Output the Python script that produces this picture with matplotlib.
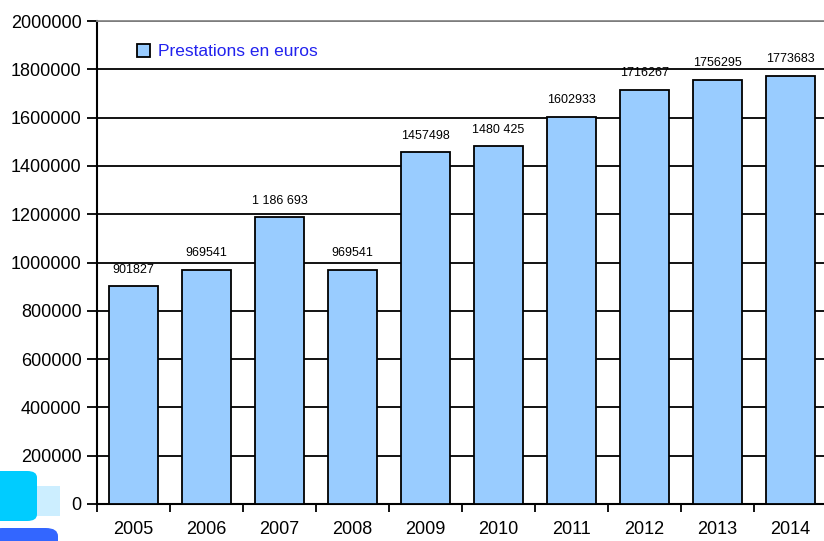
import matplotlib
matplotlib.use("Agg")
import matplotlib.pyplot as plt
from matplotlib.patches import FancyBboxPatch, Rectangle
from matplotlib import font_manager

years = ["2005", "2006", "2007", "2008", "2009", "2010", "2011", "2012", "2013", "2014"]
values = [901827, 969541, 1186693, 969541, 1457498, 1480425, 1602933, 1716267, 1756295, 1773683]
value_labels = ["901827", "969541", "1 186 693", "969541", "1457498", "1480 425",
                "1602933", "1716267", "1756295", "1773683"]
y_ticks = [0, 200000, 400000, 600000, 800000, 1000000, 1200000, 1400000, 1600000, 1800000, 2000000]
series_name = "Prestations en euros"

names = {f.name for f in font_manager.fontManager.ttflist}
narrow = "Liberation Sans Narrow" if "Liberation Sans Narrow" in names else "Liberation Sans"

fig = plt.figure(figsize=(8.24, 5.41), dpi=100)
W, H = 824, 541
ax = fig.add_axes([97 / W, 1 - 504 / H, (827 - 97) / W, (504 - 21) / H])

x = list(range(len(years)))
bars = ax.bar(x, values, width=0.67, color="#99CCFF", edgecolor="black", linewidth=1.3,
              zorder=3, label=series_name)

ax.set_xlim(-0.5, len(years) - 0.5)
ax.set_ylim(0, 2000000)
ax.set_yticks(y_ticks)
ax.set_yticklabels([str(v) for v in y_ticks], fontfamily=narrow, fontsize=13)
ax.yaxis.grid(True, color="black", linewidth=1.3, zorder=0)
ax.set_axisbelow(True)

ax.set_xticks(x)
ax.set_xticklabels(years, fontfamily=narrow, fontsize=13)
ax.tick_params(axis="x", length=0, pad=12)
ax.set_xticks([i + 0.5 for i in x[:-1]] + [-0.5], minor=True)
ax.tick_params(axis="x", which="minor", length=6, width=1.3, direction="out")
ax.tick_params(axis="y", length=7, width=1.3, direction="out", pad=4)

ax.spines["right"].set_visible(False)
ax.spines["top"].set_color("#888888")
ax.spines["top"].set_linewidth(1.3)
ax.spines["left"].set_linewidth(1.5)
ax.spines["bottom"].set_linewidth(1.5)

for xi, v, lab in zip(x, values, value_labels):
    ax.annotate(lab, (xi, v), xytext=(0, 7.5), textcoords="offset points",
                ha="center", va="bottom", fontsize=9, fontfamily="Liberation Sans")

leg = ax.legend(loc="upper left", bbox_to_anchor=(0.033, 0.985), frameon=False,
                prop={"family": narrow, "size": 12.5}, handlelength=0.75, handleheight=0.75,
                handletextpad=0.45)
for t in leg.get_texts():
    t.set_color("#2222EE")

# decorative shapes at bottom-left
fig.patches.append(Rectangle((37 / W, 1 - 516 / H), 23 / W, 30 / H, transform=fig.transFigure,
                             facecolor="#CCEEFF", edgecolor="none"))
fig.patches.append(FancyBboxPatch((-10 / W, 1 - 521 / H), 47 / W, 50 / H,
                                  boxstyle="round,pad=0,rounding_size=0.012",
                                  transform=fig.transFigure, facecolor="#00CCFF", edgecolor="none"))
fig.patches.append(FancyBboxPatch((-10 / W, 1 - 560 / H), 68 / W, 32 / H,
                                  boxstyle="round,pad=0,rounding_size=0.015",
                                  transform=fig.transFigure, facecolor="#3366FF", edgecolor="none"))

fig.savefig("out.png", dpi=100)
